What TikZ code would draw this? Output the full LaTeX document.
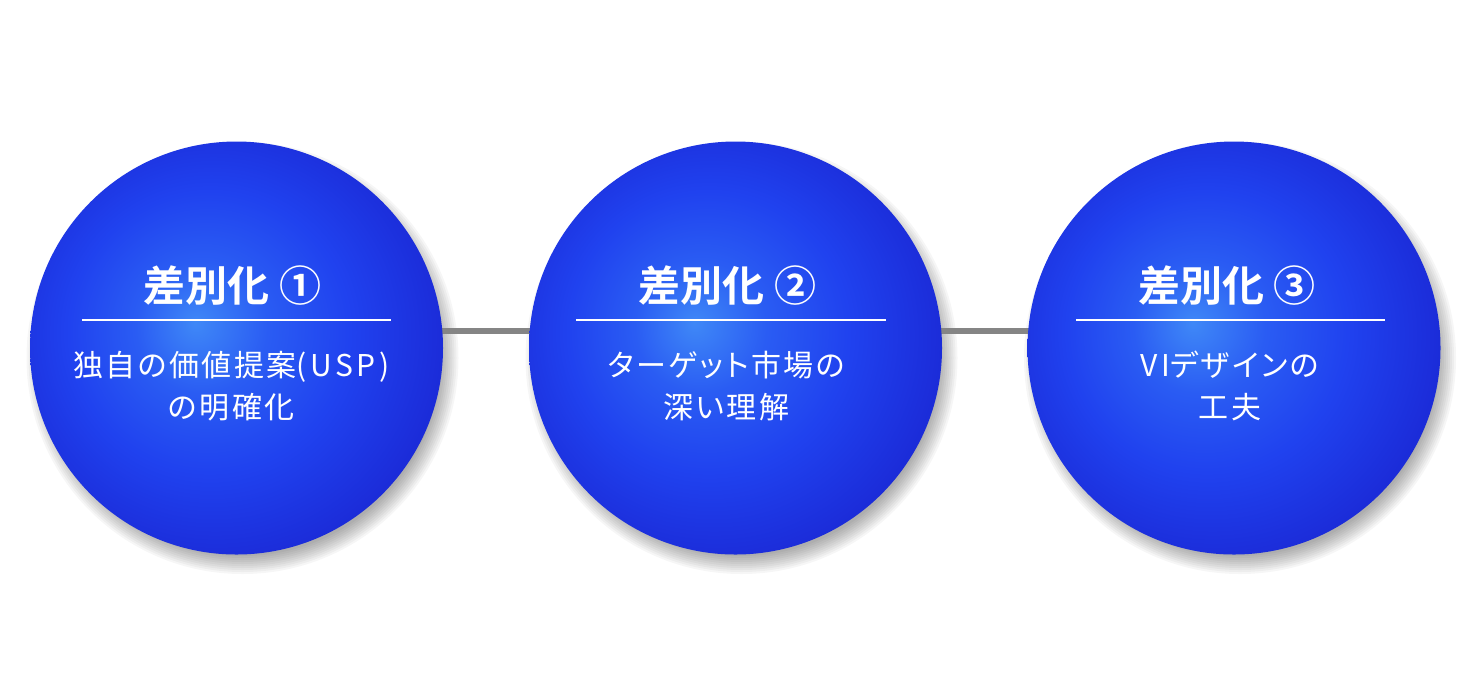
\documentclass[tikz,border=0pt]{standalone}
\usepackage{fontspec}
\newfontfamily\jp{Noto Sans CJK JP}[LetterSpace=8,RawFeature=+palt]
\newfontfamily\jpb{Noto Sans CJK JP Bold}
\newcommand{\wideLatin}[1]{{\addfontfeature{LetterSpace=12}#1}}
\usetikzlibrary{calc}
\definecolor{bIn}{HTML}{3F88F7}
\definecolor{bMidA}{HTML}{2A5CF3}
\definecolor{bMid}{HTML}{2042EF}
\definecolor{bOut}{HTML}{1A26D3}
\definecolor{connGray}{HTML}{858585}
\pgfdeclareradialshading{ballshade}{\pgfpoint{-5bp}{3bp}}{color(0bp)=(bIn); color(8bp)=(bMidA); color(17bp)=(bMid); color(30bp)=(bOut); color(50bp)=(bOut)}
\tikzset{
  ball/.style={circle, minimum size=206.5pt, inner sep=0pt, shading=ballshade},
  conn/.style={draw=connGray, line width=3pt},
  rulewhite/.style={draw=white, line width=0.6pt},
  titletext/.style={text=white, inner sep=0pt, font=\jpb\fontsize{21}{25}\selectfont},
  bodytext/.style={text=white, inner sep=0pt, align=center, font=\jp\fontsize{15}{21}\selectfont},
}
\begin{document}
\begin{tikzpicture}[x=0.5pt, y=-0.5pt]
\fill[white] (0,0) rectangle (1475,693);
\useasboundingbox (0,0) rectangle (1475,693);
\coordinate (c1) at (236.5,348);
\coordinate (c2) at (735.5,348);
\coordinate (c3) at (1234,348);
% shadows
\foreach \c in {c1,c2,c3}{
  \foreach \i in {0,...,9}{
    \fill[black, opacity=0.035] ($(\c)+(6,10)$) circle ({108pt-\i*1pt});
  }
}
% connectors
\draw[conn] ($(c1)+(0,-17)$) -- ($(c2)+(0,-17)$);
\draw[conn] ($(c2)+(0,-17)$) -- ($(c3)+(0,-17)$);
% balls
\node[ball] (b1) at (c1) {};
\node[ball] (b2) at (c2) {};
\node[ball] (b3) at (c3) {};
% titles
\node[titletext] (t1) at ($(c1)+(-4,-62)$) {差別化 ①};
\node[titletext] (t2) at ($(c2)+(-8,-62)$) {差別化 ②};
\node[titletext] (t3) at ($(c3)+(-7,-62)$) {差別化 ③};
% rules
\coordinate (r1a) at ($(c1)+(-154.5,-28)$); \coordinate (r1b) at ($(c1)+(154.5,-28)$);
\coordinate (r2a) at ($(c2)+(-159.5,-28)$); \coordinate (r2b) at ($(c2)+(150.5,-28)$);
\coordinate (r3a) at ($(c3)+(-158,-28)$); \coordinate (r3b) at ($(c3)+(151,-28)$);
\draw[rulewhite] (r1a) -- (r1b);
\draw[rulewhite] (r2a) -- (r2b);
\draw[rulewhite] (r3a) -- (r3b);
% body
\node[bodytext] (d1) at ($(c1)+(-5,38)$) {独自の価値提案\wideLatin{(USP)}\\の明確化};
\node[bodytext] (d2) at ($(c2)+(-9,38)$) {ターゲット市場の\\深い理解};
\node[bodytext] (d3) at ($(c3)+(-4,38)$) {\wideLatin{VI}デザインの\\工夫};
\end{tikzpicture}
\end{document}
